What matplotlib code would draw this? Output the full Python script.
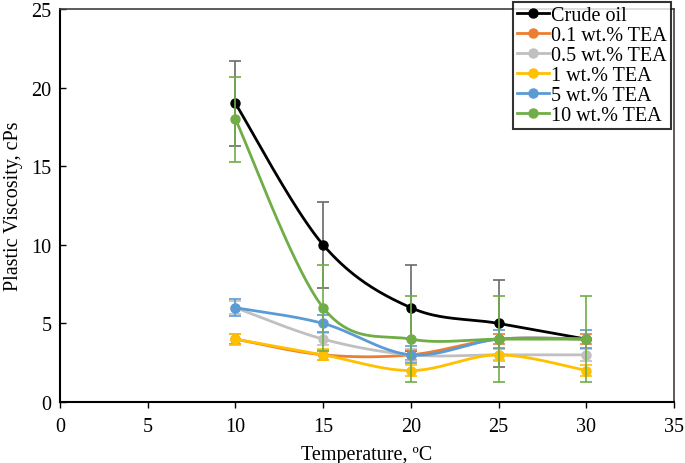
import numpy as np
import matplotlib.pyplot as plt

plt.rcParams['font.family'] = ['Liberation Serif', 'DejaVu Serif']

# data
temps = [10, 15, 20, 25, 30]
labels = ['Crude oil', '0.1 wt.% TEA', '0.5 wt.% TEA', '1 wt.% TEA', '5 wt.% TEA', '10 wt.% TEA']
crude = [19, 10, 6, 5, 4]
tea_01 = [4, 3, 3, 4, 4]
tea_05 = [6, 4, 3, 3, 3]
tea_1 = [4, 3, 2, 3, 2]
tea_5 = [6, 5, 3, 4, 4]
tea_10 = [18, 6, 4, 4, 4]
err_crude = [2.7, 2.75, 2.75, 2.75, 0]
err_01 = [0.3, 0.3, 0.3, 0.3, 0.3]
err_05 = [0.4, 0.4, 0.4, 0.4, 0.4]
err_1 = [0.35, 0.35, 0.35, 0.35, 0.35]
err_5 = [0.55, 0.55, 0.55, 0.55, 0.55]
err_10 = [2.7, 2.75, 2.75, 2.75, 2.75]

series = [crude, tea_01, tea_05, tea_1, tea_5, tea_10]
errors = [err_crude, err_01, err_05, err_1, err_5, err_10]
colors = ['black', '#ED7D31', '#C0C0C0', '#FFC000', '#5B9BD5', '#70AD47']
err_colors = ['#6a6a6a', '#ED7D31', '#C0C0C0', '#FFC000', '#5B9BD5', '#70AD47']


def smooth(x, y, n=40):
    # bezier through points, excel-like smoothing
    x = np.asarray(x, float)
    y = np.asarray(y, float)
    px = np.concatenate([[x[0]], x, [x[-1]]])
    py = np.concatenate([[y[0]], y, [y[-1]]])
    xs, ys = [], []
    t = np.linspace(0, 1, n)
    for i in range(1, len(px) - 2):
        p0 = np.array([px[i], py[i]])
        p3 = np.array([px[i + 1], py[i + 1]])
        p1 = p0 + (np.array([px[i + 1], py[i + 1]]) - np.array([px[i - 1], py[i - 1]])) / 6
        p2 = p3 - (np.array([px[i + 2], py[i + 2]]) - np.array([px[i], py[i]])) / 6
        b = ((1 - t) ** 3)[:, None] * p0 + (3 * (1 - t) ** 2 * t)[:, None] * p1 \
            + (3 * (1 - t) * t ** 2)[:, None] * p2 + (t ** 3)[:, None] * p3
        xs.extend(b[:, 0])
        ys.extend(b[:, 1])
    return xs, ys


fig = plt.figure(figsize=(6.85, 4.64), dpi=100)
ax = fig.add_axes([0.0876, 0.1315, 0.8964, 0.8465])

for y, e, c, ec, lab in zip(series, errors, colors, err_colors, labels):
    ax.errorbar(temps, y, yerr=e, fmt='none', ecolor=ec, elinewidth=1.2, capsize=4, capthick=1.2)
    sx, sy = smooth(temps, y)
    ax.plot(sx, sy, color=c, lw=2)
    ax.plot(temps, y, 'o', color=c, ms=6.5)
    ax.plot([], [], '-o', color=c, lw=2, ms=6.5, label=lab)

ax.set_xlim(0, 35)
ax.set_ylim(0, 25)
ax.set_xticks(range(0, 36, 5))
ax.set_yticks(range(0, 26, 5))
ax.tick_params(axis='x', direction='out', length=4, width=1, labelsize=14.5, pad=7)
ax.tick_params(axis='y', direction='in', length=4, width=1, labelsize=14.5, pad=6)
for s in ['left', 'bottom']:
    ax.spines[s].set_linewidth(1.5)
for s in ['top', 'right']:
    ax.spines[s].set_color('#404040')
    ax.spines[s].set_linewidth(1.2)
ax.set_xlabel('Temperature, ºC', fontsize=14.5, labelpad=6)
ax.set_ylabel('Plastic Viscosity, cPs', fontsize=14.5, labelpad=6)

leg = ax.legend(loc='upper right', bbox_to_anchor=(0.979, 0.994), bbox_transform=fig.transFigure,
                fontsize=14.5, frameon=True, fancybox=False, edgecolor='black',
                labelspacing=0.05, handlelength=1.6, handletextpad=0.1, borderpad=0.2,
                borderaxespad=0)
leg.get_frame().set_linewidth(1.5)

plt.savefig('out.png', dpi=100)
